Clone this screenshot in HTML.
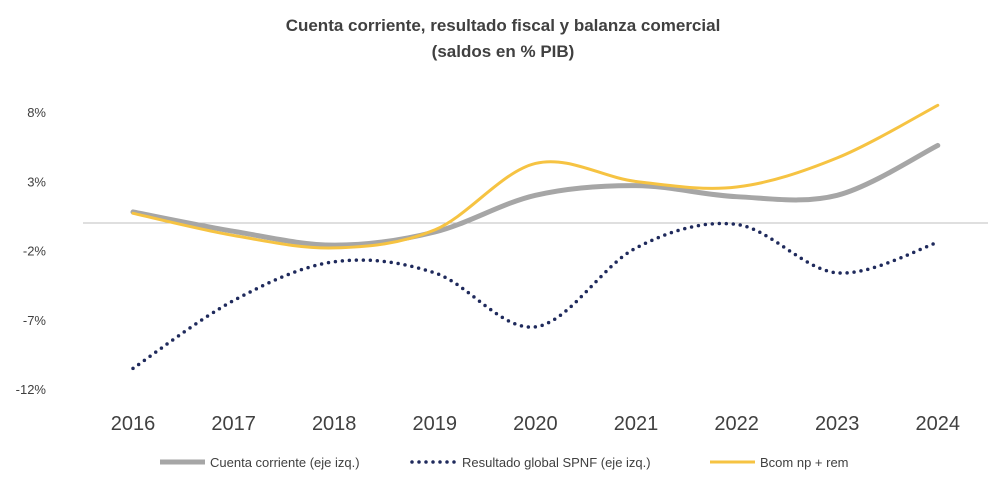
<!DOCTYPE html>
<html><head><meta charset="utf-8"><style>
body{margin:0;background:#fff;font-family:"Liberation Sans",sans-serif}
</style></head><body>
<svg id="chart" width="1006" height="486" xmlns="http://www.w3.org/2000/svg">
<text x="503" y="31" text-anchor="middle" font-size="17" font-weight="bold" fill="#404040">Cuenta corriente, resultado fiscal y balanza comercial</text>
<text x="503" y="57" text-anchor="middle" font-size="17" font-weight="bold" fill="#404040">(saldos en % PIB)</text>
<g id="axes"></g>
<g id="series"></g>
<g id="legend"></g>
</svg>
<script>
const years=["2016","2017","2018","2019","2020","2021","2022","2023","2024"];
const cuenta=[0.8,-0.6,-1.6,-0.65,2.0,2.7,1.9,2.0,5.6];
const fiscal=[-10.5,-5.6,-2.8,-3.6,-7.5,-1.8,-0.1,-3.6,-1.4];
const bcom=[0.7,-0.9,-1.8,-0.5,4.3,3.0,2.6,4.7,8.5];
const yTicks=[8,3,-2,-7,-12];
const NS="http://www.w3.org/2000/svg";
const x=i=>133+i*100.6;
const y=v=>223-v*13.85;
function mk(t,a,p){const e=document.createElementNS(NS,t);for(const k in a)e.setAttribute(k,a[k]);p.appendChild(e);return e;}
const axes=document.getElementById('axes');
yTicks.forEach(v=>{const t=mk('text',{x:46,y:y(v)+5,'text-anchor':'end','font-size':13,fill:'#404040'},axes);t.textContent=v+'%';

});
const zl=mk('line',{x1:83,x2:988,y1:y(0),y2:y(0),stroke:'#bfbfbf','stroke-width':1},axes);


years.forEach((yr,i)=>{const t=mk('text',{x:x(i),y:430,'text-anchor':'middle','font-size':20,fill:'#404040'},axes);t.textContent=yr;

});
function path(vals){const p=vals.map((v,i)=>[x(i),y(v)]);let d='M'+p[0];
for(let i=0;i<p.length-1;i++){const p0=p[Math.max(0,i-1)],p1=p[i],p2=p[i+1],p3=p[Math.min(p.length-1,i+2)];const k=6;
d+=` C${p1[0]+(p2[0]-p0[0])/k},${p1[1]+(p2[1]-p0[1])/k} ${p2[0]-(p3[0]-p1[0])/k},${p2[1]-(p3[1]-p1[1])/k} ${p2[0]},${p2[1]}`;}return d;}
const S=document.getElementById('series');
const a=mk('path',{d:path(cuenta),fill:'none',stroke:'#a6a6a6','stroke-width':5,'stroke-linecap':'round'},S);


const b=mk('path',{d:path(bcom),fill:'none',stroke:'#f6c342','stroke-width':3,'stroke-linecap':'round'},S);


const c=mk('path',{d:path(fiscal),fill:'none',stroke:'#1f2a5c','stroke-width':3.5,'stroke-dasharray':'0 7','stroke-linecap':'round'},S);


const L=document.getElementById('legend');
const items=[["Cuenta corriente (eje izq.)",160,{stroke:'#a6a6a6','stroke-width':5}],["Resultado global SPNF (eje izq.)",412,{stroke:'#1f2a5c','stroke-width':3.5,'stroke-dasharray':'0 7','stroke-linecap':'round'}],["Bcom np + rem",710,{stroke:'#f6c342','stroke-width':3}]];
items.forEach(([lab,lx,st])=>{const g=mk('g',{},L);


mk('line',Object.assign({x1:lx,x2:lx+45,y1:462,y2:462},st),g);
const t=mk('text',{x:lx+50,y:467,'font-size':13,fill:'#404040'},g);t.textContent=lab;});
</script>
</body></html>
